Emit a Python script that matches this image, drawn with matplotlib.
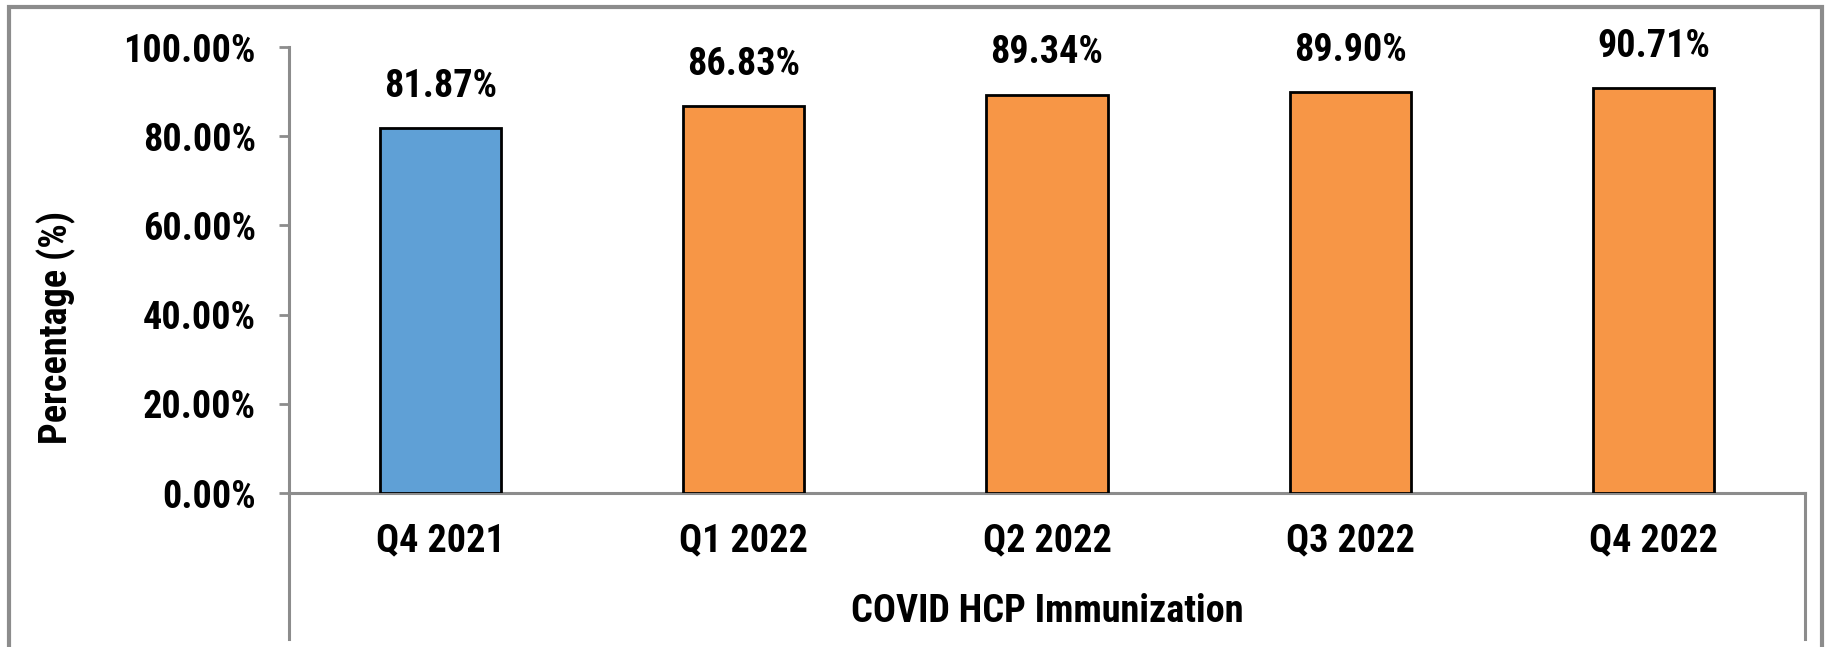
import matplotlib.pyplot as plt
from matplotlib.patches import Rectangle
from matplotlib.lines import Line2D
from matplotlib import font_manager

# data
categories = ['Q4 2021', 'Q1 2022', 'Q2 2022', 'Q3 2022', 'Q4 2022']
values = [81.87, 86.83, 89.34, 89.90, 90.71]
bar_colors = ['#5fa0d6', '#f79646', '#f79646', '#f79646', '#f79646']
yticks = [0, 20, 40, 60, 80, 100]

names = {f.name for f in font_manager.fontManager.ttflist}
fam = [f for f in ['Roboto Condensed', 'Open Sans Condensed', 'Liberation Sans Narrow',
                   'Liberation Sans', 'DejaVu Sans'] if f in names]
plt.rcParams['font.family'] = fam
plt.rcParams['font.weight'] = 'bold'

W, H = 1837, 647
fig = plt.figure(figsize=(W / 100, H / 100), dpi=100)
fig.patch.set_facecolor('white')

# plot area in pixels
x0, x1, ytop, ybot = 289, 1805, 47, 493
ax = fig.add_axes([x0 / W, 1 - ybot / H, (x1 - x0) / W, (ybot - ytop) / H])

grey = '#8c8c8c'
fs = 27.5

xs = range(len(categories))
ax.bar(xs, values, width=0.4, color=bar_colors, edgecolor='black', linewidth=2, zorder=3)
for xi, v in zip(xs, values):
    ax.annotate(f'{v:.2f}%', (xi, v), xytext=(0, 30), textcoords='offset points',
                ha='center', va='center', fontsize=fs, fontweight='bold')

ax.set_xlim(-0.5, len(categories) - 0.5)
ax.set_ylim(0, 100)
ax.set_yticks(yticks)
ax.set_yticklabels([f'{t:.2f}%' for t in yticks], fontsize=fs, fontweight='bold')
ax.set_xticks(list(xs))
ax.set_xticklabels(categories, fontsize=fs, fontweight='bold')
ax.tick_params(axis='y', length=7, width=2, color=grey, pad=17)
ax.tick_params(axis='x', length=0, pad=21)

for s in ['top', 'right']:
    ax.spines[s].set_visible(False)
for s in ['left', 'bottom']:
    ax.spines[s].set_color(grey)
    ax.spines[s].set_linewidth(2.2)

# axis lines extending down through the category area
ext = -(639 - ybot) / (ybot - ytop)
for xa in [0, 1]:
    ax.add_line(Line2D([xa, xa], [0, ext], transform=ax.transAxes, color=grey,
                       linewidth=2.2, clip_on=False))

fig.text(56 / W, 1 - 327 / H, 'Percentage (%)', rotation=90, ha='center', va='center',
         fontsize=fs, fontweight='bold')
fig.text((x0 + x1) / 2 / W, 1 - 611 / H, 'COVID HCP Immunization', ha='center', va='center',
         fontsize=fs, fontweight='bold')

# outer chart border
fig.patches.append(Rectangle((9 / W, -0.05), (1822 - 9) / W, 1.05 - 7 / H,
                             transform=fig.transFigure, fill=False, edgecolor=grey,
                             linewidth=3, figure=fig))

fig.savefig('out.png', dpi=100)
